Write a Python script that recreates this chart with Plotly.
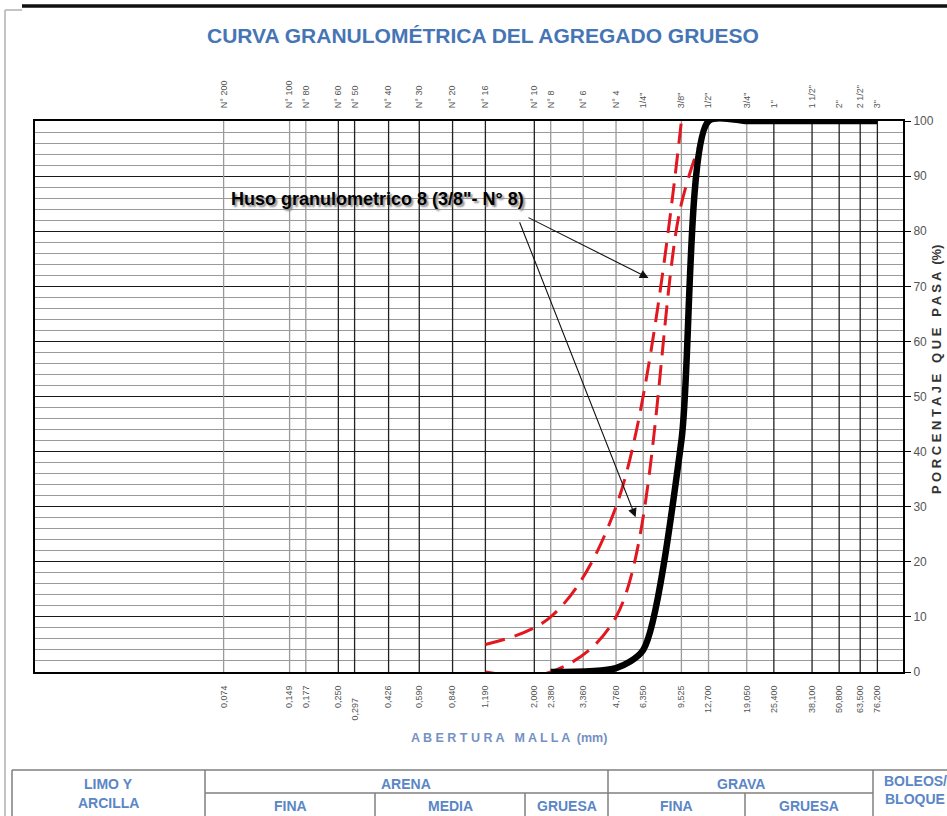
import math
import plotly.graph_objects as go

# ---------------- data ----------------
sieve_mm = [0.074, 0.149, 0.177, 0.250, 0.297, 0.426, 0.590, 0.840, 1.190, 2.000,
            2.380, 3.360, 4.760, 6.350, 9.525, 12.700, 19.050, 25.400, 38.100,
            50.800, 63.500, 76.200]
sieve_names = ["N° 200", "N° 100", "N° 80", "N° 60", "N° 50", "N° 40", "N° 30", "N° 20",
               "N° 16", "N° 10", "N° 8", "N° 6", "N° 4", "1/4\"", "3/8\"", "1/2\"",
               "3/4\"", "1\"", "1 1/2\"", "2\"", "2 1/2\"", "3\""]
sieve_labels = ["0,074", "0,149", "0,177", "0,250", "0,297", "0,426", "0,590", "0,840",
                "1,190", "2,000", "2,380", "3,360", "4,760", "6,350", "9,525", "12,700",
                "19,050", "25,400", "38,100", "50,800", "63,500", "76,200"]
dark_grid_mm = [0.250, 0.297, 0.426, 0.590, 0.840, 1.190, 2.000, 25.400, 38.100,
                50.800, 63.500, 76.200]
light_grid_mm = [0.074, 0.149, 0.177, 2.380, 3.360, 4.760, 6.350, 9.525, 12.700, 19.050]

sample_mm = [2.38, 4.76, 6.35, 9.525, 12.7, 19.05, 25.4, 38.1, 50.8, 63.5, 76.2]
sample_pass = [0, 0.7, 4, 42, 100, 100, 100, 100, 100, 100, 100]

huso_upper_mm = [1.19, 2.38, 4.76, 9.525]
huso_upper = [5, 10, 30, 100]
huso_lower_mm = [1.19, 2.38, 4.76, 9.525, 12.7]
huso_lower = [0, 0, 10, 85, 100]

arrow_tail_mm = [1.85, 1.70]
arrow_tail_pct = [82.6, 81.9]
arrow_head_mm = [6.72, 5.86]
arrow_head_pct = [71.5, 28.1]

# ---------------- layout geometry ----------------
W, H = 947, 816
L, R, T, B = 35, 903, 121, 672


def px(x):
    return (x - L) / (R - L)


def py(y):
    return (B - y) / (B - T)


fig = go.Figure()

# vertical grid lines
for xs, col, wd in [(light_grid_mm, "#9a9a9a", 1.3), (dark_grid_mm, "#222222", 1.3)]:
    gx, gy = [], []
    for s in xs:
        gx += [s, s, None]
        gy += [0, 100, None]
    fig.add_trace(go.Scatter(x=gx, y=gy, mode="lines", line=dict(color=col, width=wd),
                             hoverinfo="skip", showlegend=False))

# huso limits
dash = "20px,10px"
for xv, yv in ((huso_upper_mm, huso_upper), (huso_lower_mm, huso_lower)):
    fig.add_trace(go.Scatter(x=xv, y=yv, mode="lines",
                             line=dict(color="#e3171f", width=3, dash=dash, shape="spline", smoothing=1.0),
                             showlegend=False, hoverinfo="skip"))
# sample curve
fig.add_trace(go.Scatter(x=sample_mm, y=sample_pass, mode="lines",
                         line=dict(color="#000000", width=6.5, shape="spline", smoothing=0.7),
                         showlegend=False))

# helper trace for top axis
fig.add_trace(go.Scatter(x=sieve_mm, y=[None] * len(sieve_mm), xaxis="x2", mode="lines",
                         showlegend=False, hoverinfo="skip"))

bottom_text = [t + "\u00a0" * 5 if t == "0,297" else t for t in sieve_labels]

fig.update_layout(
    width=W, height=H,
    margin=dict(l=L, r=W - R, t=T, b=H - B),
    paper_bgcolor="white", plot_bgcolor="white",
    font=dict(family="Liberation Sans, Arial, sans-serif", color="#555555"),
    xaxis=dict(type="log", range=[-2, 2], tickvals=sieve_mm, ticktext=bottom_text,
               tickangle=-90, ticks="outside", ticklen=8, tickcolor="rgba(0,0,0,0)",
               tickfont=dict(size=9, color="#555555"), showgrid=False, zeroline=False,
               showline=True, linecolor="black", linewidth=2, mirror=True),
    xaxis2=dict(type="log", range=[-2, 2], overlaying="x", side="top", anchor="y",
                tickvals=sieve_mm, ticktext=sieve_names, tickangle=-90, ticks="outside",
                ticklen=10, tickcolor="rgba(0,0,0,0)", tickfont=dict(size=9, color="#555555"),
                showgrid=False, zeroline=False),
    yaxis=dict(range=[0, 100], side="right", tickvals=list(range(0, 101, 10)),
               ticks="outside", ticklen=6, tickcolor="black",
               tickfont=dict(size=12, color="#555555"),
               showgrid=True, gridcolor="#1a1a1a", gridwidth=1.3, zeroline=False,
               showline=True, linecolor="black", linewidth=2, mirror=True,
               minor=dict(dtick=2, showgrid=True, gridcolor="#9a9a9a", gridwidth=1, ticks="")),
)


def label(text, x, y, font, angle=0):
    return dict(x=px(x), y=py(y), xref="paper", yref="paper", showarrow=False,
                xanchor="center", yanchor="middle", textangle=angle, text=text, font=font)


ann = []
ann.append(label("<b>CURVA GRANULOMÉTRICA DEL AGREGADO GRUESO</b>", 483, 36,
                 dict(family="Liberation Sans, Arial, sans-serif", size=21, color="#4675b6")))
ann.append(label("<b>A B E R T U R A   M A L L A  (mm)</b>", 509, 738,
                 dict(family="Liberation Sans, Arial, sans-serif", size=12.5, color="#7391c4")))
ann.append(label("<b>P O R C E N T A J E   Q U E   P A S A  (%)</b>", 936, 370,
                 dict(family="Liberation Sans, Arial, sans-serif", size=13, color="#333333"), -90))
ann.append(label("<b>Huso granulometrico 8 (3/8\"- N° 8)</b>", 377, 199,
                 dict(family="Liberation Sans, Arial, sans-serif", size=18, color="black",
                      shadow="2px 2px 2px #888888")))
# arrows
for tx, ty, hx, hy in zip(arrow_tail_mm, arrow_tail_pct, arrow_head_mm, arrow_head_pct):
    ann.append(dict(x=math.log10(hx), y=hy, xref="x", yref="y",
                    ax=math.log10(tx), ay=ty, axref="x", ayref="y",
                    showarrow=True, arrowhead=2, arrowsize=1.6, arrowwidth=1.1,
                    arrowcolor="#111111", text=""))

# table texts
tbl_font = dict(family="Liberation Sans, Arial, sans-serif", size=14, color="#5a86c6")
tbl_texts = [("<b>LIMO Y</b>", 108, 784), ("<b>ARCILLA</b>", 108, 803),
             ("<b>ARENA</b>", 406, 784), ("<b>GRAVA</b>", 741, 784),
             ("<b>BOLEOS/</b>", 915, 781), ("<b>BLOQUE</b>", 915, 799),
             ("<b>FINA</b>", 290, 806), ("<b>MEDIA</b>", 450, 806), ("<b>GRUESA</b>", 567, 806),
             ("<b>FINA</b>", 676, 806), ("<b>GRUESA</b>", 809, 806)]
for t, x, y in tbl_texts:
    ann.append(label(t, x, y, tbl_font))
fig.update_layout(annotations=ann)

# table lines + page frame
shapes = []


def seg(x0, y0, x1, y1, col="#7f7f7f", w=1.5):
    shapes.append(dict(type="line", xref="paper", yref="paper",
                       x0=px(x0), y0=py(y0), x1=px(x1), y1=py(y1),
                       line=dict(color=col, width=w)))


seg(12, 770, 947, 770)
seg(205, 793, 873, 793)
for x in [12, 205, 608, 873]:
    seg(x, 770, x, 820)
for x in [375, 525, 745]:
    seg(x, 793, x, 820)
seg(22, 6, 947, 6, "#111111", 3.5)
seg(5, 10, 22, 10, "#b0b0b0", 1.5)
seg(5, 10, 5, 820, "#b0b0b0", 1.5)
fig.update_layout(shapes=shapes)

fig.write_html("out.html")
